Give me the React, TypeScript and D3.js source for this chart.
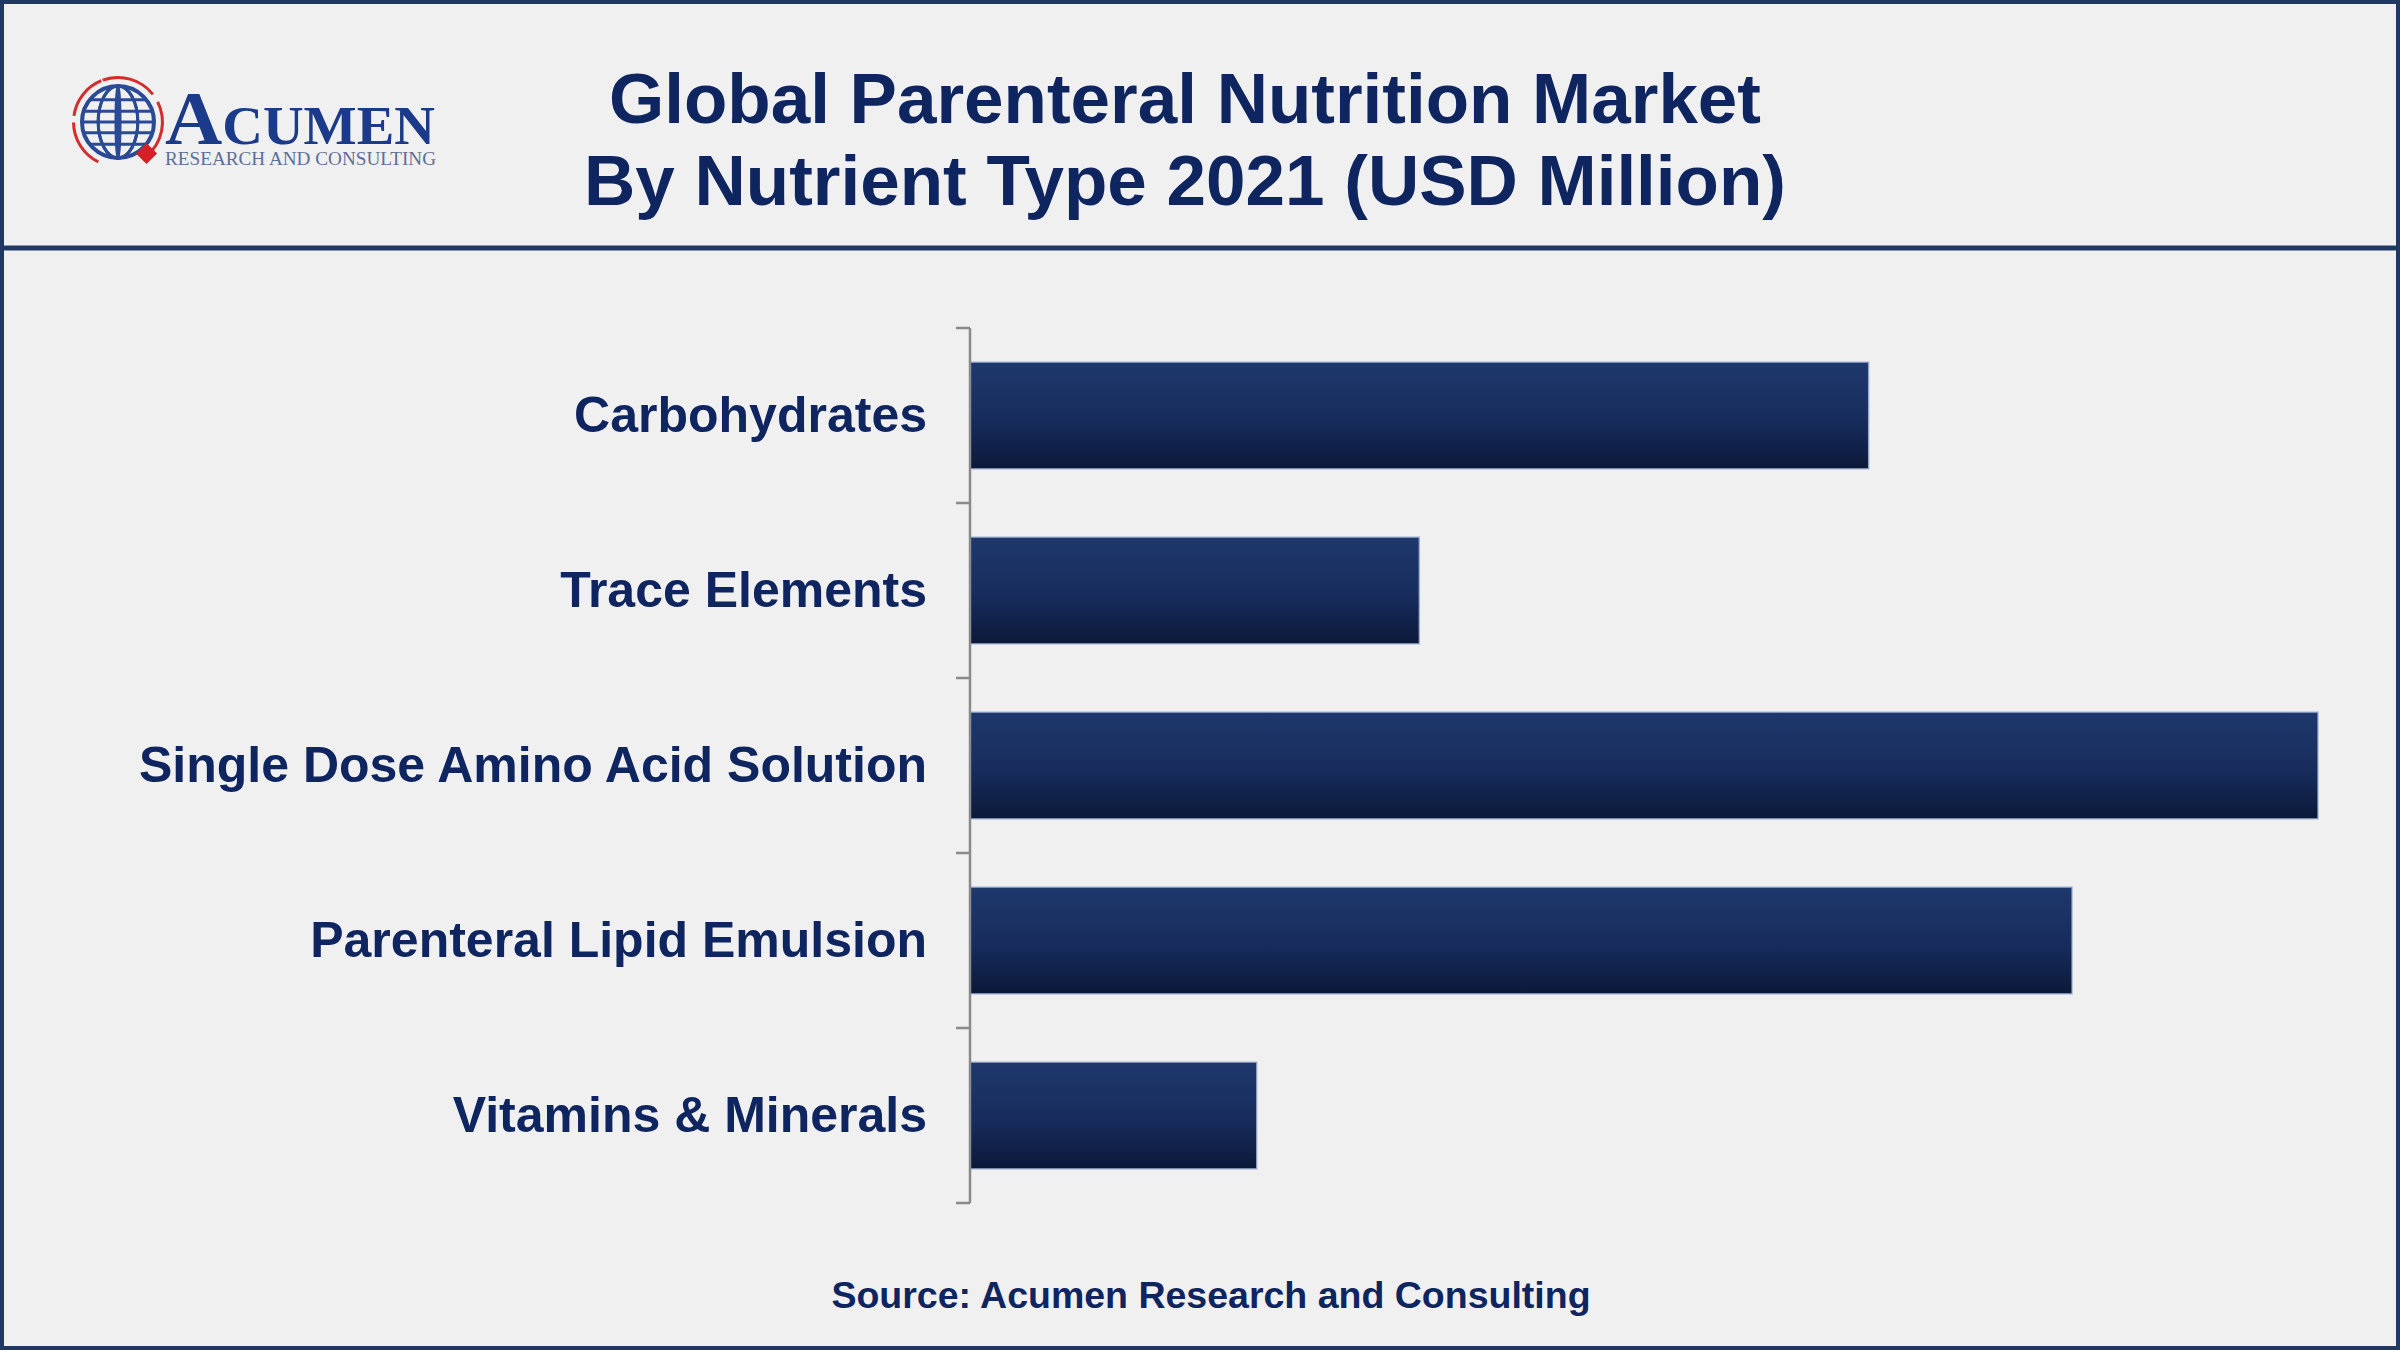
import * as d3 from 'd3';

const categories = [
  'Carbohydrates',
  'Trace Elements',
  'Single Dose Amino Acid Solution',
  'Parenteral Lipid Emulsion',
  'Vitamins & Minerals',
];
const values = [1520, 760, 2280, 1864, 485];
const titleLines = ['Global Parenteral Nutrition Market', 'By Nutrient Type 2021 (USD Million)'];
const sourceText = 'Source: Acumen Research and Consulting';

const W = 2400;
const H = 1350;
const NAVY = '#1f3864';
const TEXT = '#0f2560';
const FONT = '"Liberation Sans", Arial, sans-serif';

const AXIS_X = 970;
const PLOT_TOP = 328;
const PLOT_BOTTOM = 1203;

function Logo() {
  const cx = 118;
  const cy = 122;
  const r = 36;
  const arc = d3.arc();
  const redArcs = [
    [-0.35, 0.9],
    [1.1, 2.45],
    [3.6, 4.7],
    [4.85, 5.9],
  ];
  return (
    <g>
      <circle cx={cx} cy={cy} r={r} fill="none" stroke="#2a4a96" strokeWidth={4} />
      {[-0.6, 0, 0.6].map((k) => (
        <ellipse key={'m' + k} cx={cx} cy={cy} rx={Math.abs(k) === 0 ? 2 : r * 0.55} ry={r} fill="none" stroke="#2a4a96" strokeWidth={3} />
      ))}
      <line x1={cx} x2={cx} y1={cy - r} y2={cy + r} stroke="#2a4a96" strokeWidth={3} />
      {[-0.62, -0.3, 0, 0.3, 0.62].map((k) => {
        const yy = cy + k * r;
        const half = Math.sqrt(Math.max(0, r * r - (k * r) ** 2));
        return <line key={'p' + k} x1={cx - half} x2={cx + half} y1={yy} y2={yy} stroke="#2a4a96" strokeWidth={3} />;
      })}
      {redArcs.map(([a0, a1], i) => (
        <path
          key={i}
          transform={`translate(${cx},${cy})`}
          d={arc({ innerRadius: r + 7, outerRadius: r + 10, startAngle: a0, endAngle: a1 }) || ''}
          fill="#d42b2b"
        />
      ))}
      <rect x={139} y={146} width={15} height={15} fill="#d61f26" transform="rotate(45 146.5 153.5)" />
      <text
        x={165}
        y={144}
        fontFamily='"Liberation Serif", "Times New Roman", serif'
        fill="#1b3a8a"
        fontWeight={700}
        textLength={270}
        lengthAdjust="spacingAndGlyphs"
      >
        <tspan fontSize={76}>A</tspan>
        <tspan fontSize={54}>CUMEN</tspan>
      </text>
      <text x={165} y={165} fontFamily='"Liberation Serif", "Times New Roman", serif' fill="#5c6f99" fontSize={18} textLength={271} lengthAdjust="spacingAndGlyphs">
        RESEARCH AND CONSULTING
      </text>
    </g>
  );
}

export default function App() {
  const y = d3.scaleBand<string>().domain(categories).range([PLOT_TOP, PLOT_BOTTOM]).paddingInner(0.39).paddingOuter(0.195);
  const x = d3.scaleLinear().domain([0, d3.max(values) as number]).range([AXIS_X, 2318]);
  const step = y.step();
  const tickYs = d3.range(categories.length + 1).map((i) => PLOT_TOP + i * step);

  return (
    <svg
      width={W}
      height={H}
      viewBox={`0 0 ${W} ${H}`}
      style={{ position: 'fixed', left: 0, top: 0, display: 'block' }}
    >
      <defs>
        <linearGradient id="barGrad" x1="0" y1="0" x2="0" y2="1">
          <stop offset="0%" stopColor="#1e386c" />
          <stop offset="55%" stopColor="#172c5c" />
          <stop offset="100%" stopColor="#0b1838" />
        </linearGradient>
      </defs>
      <rect x={0} y={0} width={W} height={H} fill="#f0f0f0" />
      <rect x={2} y={2} width={W - 4} height={H - 4} fill="none" stroke={NAVY} strokeWidth={4} />
      <line x1={0} x2={W} y1={248} y2={248} stroke={NAVY} strokeWidth={5} />

      <Logo />

      <g fontFamily={FONT} fontWeight={700} fill={TEXT} textAnchor="middle">
        <text x={1185} y={123} fontSize={71}>{titleLines[0]}</text>
        <text x={1185} y={205} fontSize={71}>{titleLines[1]}</text>
      </g>

      <g>
        {categories.map((c, i) => (
          <rect
            key={c}
            x={x(0)}
            y={y(c)}
            width={x(values[i]) - x(0)}
            height={y.bandwidth()}
            fill="url(#barGrad)"
            stroke="#9fb1d4"
            strokeWidth={1.5}
            strokeOpacity={0.8}
          />
        ))}
      </g>

      <g stroke="#8a8a8a" strokeWidth={2.5}>
        <line x1={AXIS_X} x2={AXIS_X} y1={PLOT_TOP} y2={PLOT_BOTTOM} />
        {tickYs.map((t) => (
          <line key={t} x1={AXIS_X - 14} x2={AXIS_X} y1={t} y2={t} />
        ))}
      </g>

      <g fontFamily={FONT} fontWeight={700} fill={TEXT} fontSize={50} textAnchor="end">
        {categories.map((c) => (
          <text key={c} x={927} y={(y(c) as number) + y.bandwidth() / 2} dy="0.33em">
            {c}
          </text>
        ))}
      </g>

      <text x={1211} y={1308} fontFamily={FONT} fontWeight={700} fill={TEXT} fontSize={37.5} textAnchor="middle">
        {sourceText}
      </text>
    </svg>
  );
}
